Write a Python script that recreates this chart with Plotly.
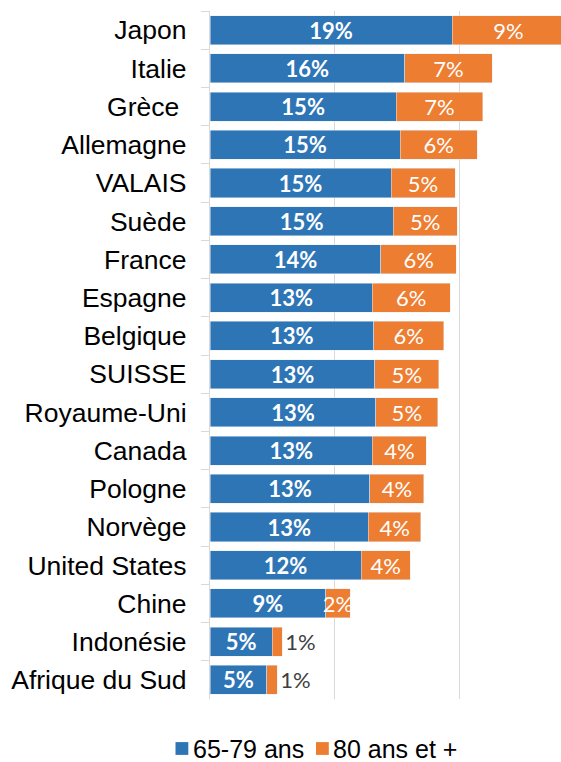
import plotly.graph_objects as go

# Share of population by age group, per country / region (in %)
countries = ["Japon", "Italie", "Grèce\u00a0", "Allemagne", "VALAIS", "Suède", "France",
             "Espagne", "Belgique", "SUISSE", "Royaume-Uni", "Canada", "Pologne",
             "Norvège", "United States", "Chine", "Indonésie", "Afrique du Sud"]
age_65_79 = [19.43, 15.61, 14.94, 15.24, 14.52, 14.70, 13.71, 13.02, 13.13, 13.23,
             13.31, 13.02, 12.83, 12.70, 12.13, 9.30, 5.00, 4.55]
age_80_plus = [9.00, 7.03, 6.93, 6.20, 5.13, 5.13, 6.04, 6.23, 5.61, 5.11,
               4.95, 4.33, 4.31, 4.22, 3.91, 1.93, 0.80, 0.85]
series_names = ["65-79 ans", "80 ans et +"]

BLUE = "#2E75B6"
ORANGE = "#ED7D31"
GRID = "#D9D9D9"
LABEL_FONT = "Liberation Sans, Arial, sans-serif"
VALUE_FONT = "Lato, Calibri, sans-serif"

W, H = 561, 762
M_L, M_R, M_T, M_B = 210, 0, 11, 63
PLOT_W = W - M_L - M_R
PLOT_H = H - M_T - M_B


def px_to_paper(px, py):
    """Convert page pixel coordinates to paper coordinates."""
    return (px - M_L) / PLOT_W, (H - M_B - py) / PLOT_H


# Small segments get their value label just past the bar end
orange_pos = ["outside" if v < 1.5 else "inside" for v in age_80_plus]

fig = go.Figure()
fig.add_trace(go.Bar(
    y=countries, x=age_65_79, name=series_names[0], orientation="h",
    marker=dict(color=BLUE),
    texttemplate="<b>%{x:.0f}%</b>", textposition="inside", textangle=0,
    insidetextanchor="middle", constraintext="none",
    textfont=dict(family=VALUE_FONT, size=22, color="white"),
))
fig.add_trace(go.Bar(
    y=countries, x=age_80_plus, name=series_names[1], orientation="h",
    marker=dict(color=ORANGE),
    texttemplate="%{x:.0f}%", textposition=orange_pos, textangle=0,
    insidetextanchor="middle", constraintext="none",
    insidetextfont=dict(family=VALUE_FONT, size=22, color="white"),
    outsidetextfont=dict(family=VALUE_FONT, size=22, color="#404040"),
))

# Legend below the chart: coloured square + series name
LEGEND_Y = 748.5
legend_items = [(series_names[0], BLUE, 175.5), (series_names[1], ORANGE, 316.0)]
shapes, annotations = [], []
for name, color, sq_left in legend_items:
    x0, y0 = px_to_paper(sq_left, LEGEND_Y + 6.4)
    x1, y1 = px_to_paper(sq_left + 12.8, LEGEND_Y - 6.4)
    shapes.append(dict(type="rect", xref="paper", yref="paper",
                       x0=x0, x1=x1, y0=y0, y1=y1,
                       fillcolor=color, line=dict(width=0)))
    tx, ty = px_to_paper(sq_left + 16.0, LEGEND_Y)
    annotations.append(dict(text=name, xref="paper", yref="paper",
                            x=tx, y=ty, xanchor="left", yanchor="middle",
                            showarrow=False, borderpad=0,
                            font=dict(family=LABEL_FONT, size=25, color="black")))

fig.update_layout(
    width=W, height=H,
    margin=dict(l=M_L, r=M_R, t=M_T, b=M_B),
    barmode="stack", bargap=0.24,
    plot_bgcolor="white", paper_bgcolor="white",
    showlegend=False,
    shapes=shapes, annotations=annotations,
)
fig.update_xaxes(
    range=[0, 28.15], dtick=10, showticklabels=False,
    showgrid=True, gridcolor=GRID, gridwidth=1.3,
    zeroline=False, showline=False,
)
fig.update_yaxes(
    autorange="reversed", type="category",
    showline=True, linecolor=GRID, linewidth=1.3,
    ticks="outside", tickson="boundaries", ticklen=8, tickcolor=GRID, tickwidth=1.3,
    ticklabelstandoff=17,
    tickfont=dict(family=LABEL_FONT, size=26.5, color="black"),
    showgrid=False,
)

fig.write_html("out.html")
